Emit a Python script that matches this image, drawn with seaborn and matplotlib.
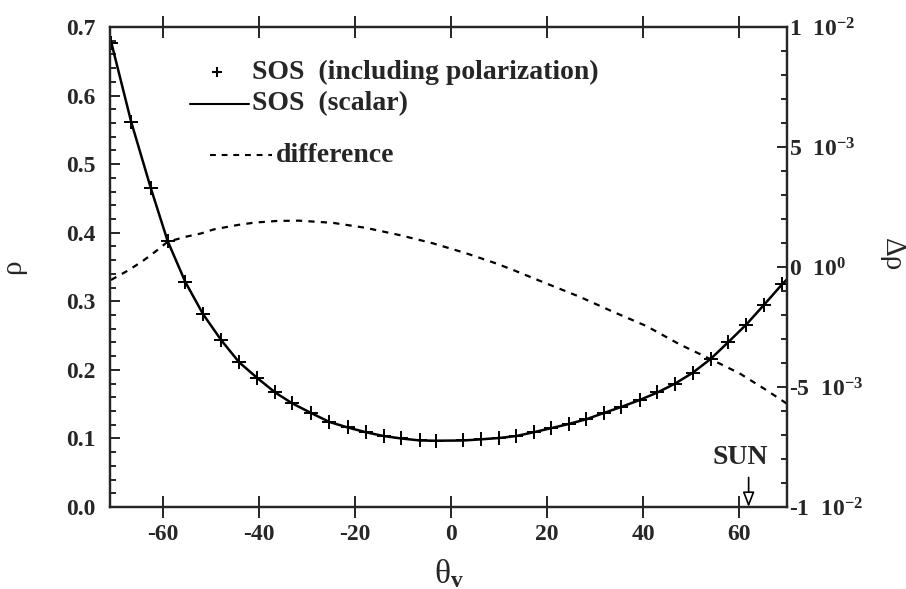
import matplotlib
matplotlib.use("Agg")
import matplotlib.pyplot as plt
from matplotlib.lines import Line2D
from matplotlib.ticker import MultipleLocator
import seaborn as sns

# Reflectance with polarization (markers), viewing zenith angle in degrees
theta_pol = [-70.8, -66.6, -62.5, -59.0, -55.3, -51.6, -47.8, -44.1, -40.3, -36.6,
             -33.0, -29.1, -25.3, -21.5, -17.7, -14.0, -10.4, -6.4, -3.1, 2.6,
             6.3, 10.0, 13.6, 17.2, 20.9, 24.5, 28.2, 31.8, 35.5, 39.3,
             43.0, 46.7, 50.4, 54.1, 57.7, 61.5, 65.1, 69.0]
rho_pol = [0.676, 0.562, 0.465, 0.388, 0.328, 0.281, 0.243, 0.211, 0.188, 0.167,
           0.151, 0.137, 0.124, 0.116, 0.109, 0.1035, 0.100, 0.097, 0.0967, 0.097,
           0.0987, 0.1006, 0.1035, 0.109, 0.115, 0.121, 0.128, 0.137, 0.146, 0.156,
           0.167, 0.180, 0.196, 0.216, 0.240, 0.266, 0.294, 0.325]

# Scalar reflectance (solid line)
theta_sca = [-71.0, -66.6, -62.5, -59.0, -55.3, -51.6, -47.8, -44.1, -40.3, -36.6,
             -33.0, -29.1, -25.3, -21.5, -17.7, -14.0, -10.4, -6.4, -3.1, 2.6,
             6.3, 10.0, 13.6, 17.2, 20.9, 24.5, 28.2, 31.8, 35.5, 39.3,
             43.0, 46.7, 50.4, 54.1, 57.7, 61.5, 65.1, 69.0, 70.0]
rho_sca = [0.685, 0.562, 0.465, 0.388, 0.328, 0.281, 0.243, 0.211, 0.188, 0.167,
           0.151, 0.137, 0.124, 0.116, 0.109, 0.1035, 0.100, 0.097, 0.0967, 0.097,
           0.0987, 0.1006, 0.1035, 0.109, 0.115, 0.121, 0.128, 0.137, 0.146, 0.156,
           0.167, 0.180, 0.196, 0.216, 0.240, 0.266, 0.294, 0.325, 0.332]

# Difference between the two computations (right axis)
theta_diff = [-70.8, -67.0, -63.9, -61.1, -59.0, -55.2, -52.0, -49.3, -44.4, -40.9,
              -36.1, -31.6, -24.6, -17.7, -10.7, -3.8, 3.2, 9.4, 12.9, 19.8,
              26.8, 33.7, 40.7, 47.6, 54.5, 60.1, 65.7, 70.0]
drho = [-0.00054, -0.00012, 0.00029, 0.00071, 0.00105, 0.00126, 0.00140, 0.00157, 0.00175, 0.00185,
        0.00192, 0.00193, 0.00184, 0.00163, 0.00133, 0.00099, 0.00057, 0.00015, -0.00012, -0.00068,
        -0.00124, -0.00186, -0.00246, -0.00322, -0.00388, -0.00443, -0.00513, -0.00570]

theta_ticks = [-60, -40, -20, 0, 20, 40, 60]
theta_tick_labels = ["-60", "-40", "-20", "0", "20", "40", "60"]
rho_ticks = [0.0, 0.1, 0.2, 0.3, 0.4, 0.5, 0.6, 0.7]
rho_tick_labels = ["0.0", "0.1", "0.2", "0.3", "0.4", "0.5", "0.6", "0.7"]
drho_ticks = [-0.01, -0.005, 0.0, 0.005, 0.01]
drho_tick_labels = [r"-1  10$^{-2}$", r"-5  10$^{-3}$", r"0  10$^{0}$",
                    r"5  10$^{-3}$", r"1  10$^{-2}$"]
legend_labels = ["SOS  (including polarization)", "SOS  (scalar)", "difference"]
sun_theta = 62.0

sns.set_style("ticks")
plt.rcParams["font.family"] = ["Liberation Serif", "DejaVu Serif"]
plt.rcParams["font.weight"] = "bold"
plt.rcParams["mathtext.fontset"] = "custom"
plt.rcParams["mathtext.rm"] = "Liberation Serif:bold"
plt.rcParams["mathtext.it"] = "Liberation Serif:bold"
plt.rcParams["mathtext.bf"] = "Liberation Serif:bold"
plt.rcParams["axes.unicode_minus"] = False

fig = plt.figure(figsize=(9.06, 5.89), dpi=100)
ax = fig.add_axes([0.1214, 0.1392, 0.7473, 0.8150])

sns.lineplot(x=theta_sca, y=rho_sca, ax=ax, color="black", linewidth=1.8, sort=False)
sns.scatterplot(x=theta_pol, y=rho_pol, ax=ax, marker="+", s=90, color="black",
                linewidth=1.4, zorder=3)

ax.set_xlim(-71, 70)
ax.set_ylim(0, 0.7)
ax.set_xticks(theta_ticks)
ax.set_xticklabels(theta_tick_labels)
ax.set_yticks(rho_ticks)
ax.set_yticklabels(rho_tick_labels)
ax.yaxis.set_minor_locator(MultipleLocator(0.02))
ax.tick_params(axis="x", which="major", direction="inout", length=16, width=1.4,
               top=True, bottom=True, labelsize=17, pad=4)
ax.tick_params(axis="y", which="major", direction="in", length=7.2, width=1.4,
               left=True, right=False, labelsize=17, pad=10.5)
ax.tick_params(axis="y", which="minor", direction="in", length=4.3, width=1.4,
               left=True, right=False)
for s in ax.spines.values():
    s.set_linewidth(1.6)

ax.set_xlabel(r"θ$_{\mathrm{v}}$", fontsize=24, labelpad=9)
ax.set_ylabel("ρ", fontsize=21, rotation=90, va="center", ha="center")
ax.yaxis.set_label_coords(-0.143, 0.5)

# Right axis: difference
ax2 = ax.twinx()
sns.lineplot(x=theta_diff, y=drho, ax=ax2, color="black", linewidth=1.6,
             linestyle=(0, (2.8, 2.8)), sort=False)
ax2.set_ylim(-0.01, 0.01)
ax2.set_yticks(drho_ticks)
ax2.set_yticklabels(drho_tick_labels)
ax2.yaxis.set_minor_locator(MultipleLocator(0.001))
ax2.tick_params(axis="y", which="major", direction="in", length=7.2, width=1.4,
                labelsize=17, pad=1.5)
ax2.tick_params(axis="y", which="minor", direction="in", length=4.3, width=1.4)
ax2.set_ylabel("Δρ", fontsize=21, rotation=270, va="center", ha="center")
ax2.yaxis.set_label_coords(1.155, 0.525)
for s in ax2.spines.values():
    s.set_linewidth(1.6)

# Legend drawn inside the axes
ax.add_line(Line2D([0.158], [0.906], marker="+", markersize=7, markeredgewidth=1.5,
                   color="black", transform=ax.transAxes))
ax.text(0.210, 0.906, legend_labels[0], transform=ax.transAxes, fontsize=20,
        va="center", ha="left")
ax.add_line(Line2D([0.118, 0.205], [0.840, 0.840], color="black", linewidth=1.5,
                   transform=ax.transAxes))
ax.text(0.210, 0.840, legend_labels[1], transform=ax.transAxes, fontsize=20,
        va="center", ha="left")
ax.add_line(Line2D([0.148, 0.240], [0.733, 0.733], color="black", linewidth=1.5,
                   linestyle=(0, (2.8, 2.8)), transform=ax.transAxes))
ax.text(0.245, 0.733, legend_labels[2], transform=ax.transAxes, fontsize=20,
        va="center", ha="left")

# Sun direction marker
ax.annotate("", xy=(sun_theta, 0.0), xytext=(sun_theta, 0.043),
            arrowprops=dict(arrowstyle="-|>,head_length=0.9,head_width=0.35",
                            fc="white", ec="black", lw=1.2, shrinkA=0, shrinkB=0))
ax.text(60.3, 0.054, "SUN", ha="center", va="bottom", fontsize=20)

fig.savefig("out.png", dpi=100)
